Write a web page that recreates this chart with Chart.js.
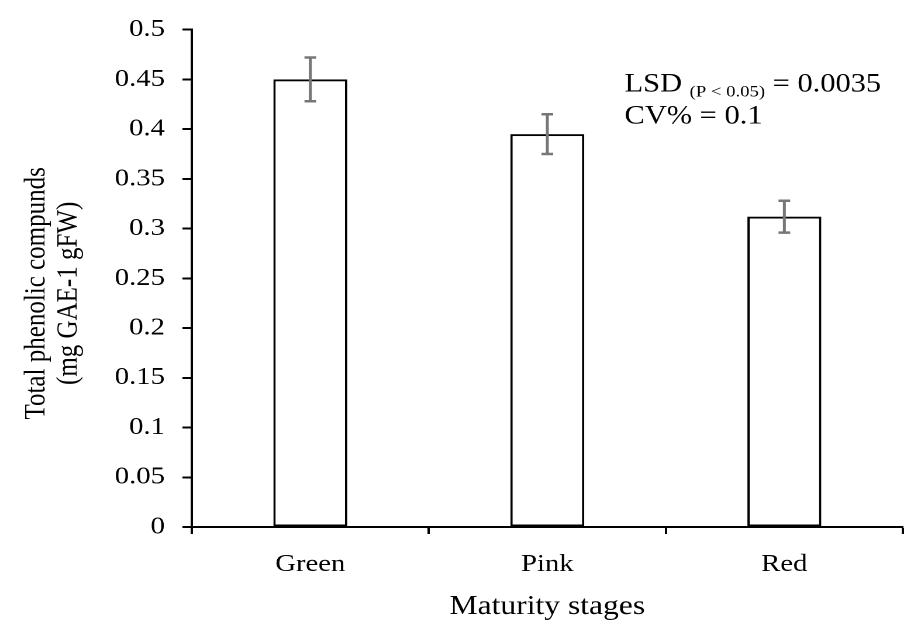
<!DOCTYPE html>
<html>
<head>
<meta charset="utf-8">
<script src="https://cdn.jsdelivr.net/npm/chart.js@4.4.1/dist/chart.umd.min.js"></script>
<style>
  html, body { margin: 0; padding: 0; background: #fff; overflow: hidden; }
  /* chart is laid out narrower and stretched sideways, like the exported figure */
  #wrap { width: 773px; height: 628px; transform: scaleX(1.1695); transform-origin: 0 0; }
</style>
</head>
<body>
<div id="wrap"><canvas id="phenolChart"></canvas></div>
<script>
// Total phenolic compounds at each maturity stage
const stages = ['Green', 'Pink', 'Red'];
const phenolMeans = [0.45, 0.395, 0.312];
const phenolErrors = [0.022, 0.02, 0.016];
const yMin = 0, yMax = 0.5, yStep = 0.05;
const yTitleLines = ['Total phenolic compunds', '(mg GAE-1 gFW)'];
const xTitle = 'Maturity stages';
const lsdValue = '0.0035';
const cvValue = '0.1';

const serif = '"Liberation Serif", "Times New Roman", serif';

// Mean +/- error whiskers on top of each bar
const errorBars = {
    id: 'errorBars',
    afterDatasetsDraw(chart) {
        const { ctx } = chart;
        const y = chart.scales.y;
        const meta = chart.getDatasetMeta(0);
        ctx.save();
        ctx.strokeStyle = '#777777';
        ctx.lineWidth = 2.5;
        meta.data.forEach((bar, i) => {
            const top = y.getPixelForValue(phenolMeans[i] + phenolErrors[i]);
            const bottom = y.getPixelForValue(phenolMeans[i] - phenolErrors[i]);
            ctx.beginPath();
            ctx.moveTo(bar.x, top);
            ctx.lineTo(bar.x, bottom);
            ctx.moveTo(bar.x - 5, top);
            ctx.lineTo(bar.x + 5, top);
            ctx.moveTo(bar.x - 5, bottom);
            ctx.lineTo(bar.x + 5, bottom);
            ctx.stroke();
        });
        ctx.restore();
    }
};

// LSD / CV% note in the upper right corner
const statsNote = {
    id: 'statsNote',
    afterDraw(chart) {
        const { ctx, chartArea } = chart;
        const left = chartArea.left + 370;
        const base = chartArea.top + 62;
        let x = left;
        ctx.save();
        ctx.fillStyle = '#000';
        ctx.textBaseline = 'alphabetic';
        ctx.textAlign = 'left';
        ctx.font = '26px ' + serif;
        ctx.fillText('LSD ', x, base);
        x += ctx.measureText('LSD ').width;
        ctx.font = '16px ' + serif;
        ctx.fillText('(P < 0.05)', x, base + 5);
        x += ctx.measureText('(P < 0.05)').width;
        ctx.font = '26px ' + serif;
        ctx.fillText(' = ' + lsdValue, x, base);
        ctx.fillText('CV% = ' + cvValue, left, base + 32);
        ctx.restore();
    }
};

// Two-line vertical axis title
const yTitle = {
    id: 'yTitle',
    afterDraw(chart) {
        const { ctx, chartArea } = chart;
        const cy = (chartArea.top + chartArea.bottom) / 2 + 15;
        ctx.save();
        ctx.fillStyle = '#000';
        ctx.font = '25px ' + serif;
        ctx.textAlign = 'center';
        ctx.textBaseline = 'middle';
        yTitleLines.forEach((line, i) => {
            ctx.save();
            ctx.translate(31.5 + i * 27.5, cy);
            ctx.rotate(-Math.PI / 2);
            ctx.fillText(line, 0, 0);
            ctx.restore();
        });
        ctx.restore();
    }
};

const ctx = document.getElementById('phenolChart').getContext('2d');
const phenolChart = new Chart(ctx, {
    type: 'bar',
    data: {
        labels: stages,
        datasets: [{
            data: phenolMeans,
            backgroundColor: '#ffffff',
            borderColor: '#000000',
            borderWidth: 2,
            borderSkipped: false,
            barPercentage: 0.312,
            categoryPercentage: 1,
        }],
    },
    options: {
        responsive: true,
        maintainAspectRatio: false,
        devicePixelRatio: 2,
        animation: false,
        layout: { padding: { top: 16, right: 1, left: 0, bottom: 0 } },
        plugins: {
            legend: { display: false },
            tooltip: { enabled: false },
        },
        scales: {
            x: {
                grid: {
                    offset: true,
                    drawOnChartArea: false,
                    drawTicks: true,
                    tickLength: 7,
                    tickWidth: 2,
                    tickColor: '#000',
                },
                border: { color: '#000', width: 2 },
                ticks: {
                    color: '#000',
                    padding: 16,
                    maxRotation: 0,
                    font: { family: serif, size: 24.5 },
                },
                title: {
                    display: true,
                    text: xTitle,
                    color: '#000',
                    font: { family: serif, size: 27 },
                    padding: { top: 0, bottom: 5 },
                },
                afterFit(scale) { scale.height = 101; },
            },
            y: {
                min: yMin,
                max: yMax,
                grid: {
                    drawOnChartArea: false,
                    drawTicks: true,
                    tickLength: 8,
                    tickWidth: 2,
                    tickColor: '#000',
                },
                border: { color: '#000', width: 2 },
                ticks: {
                    stepSize: yStep,
                    color: '#000',
                    padding: 15,
                    font: { family: serif, size: 24.5 },
                    callback: (v) => String(+v.toFixed(2)),
                },
                afterFit(scale) { scale.width = 164; },
            },
        },
    },
    plugins: [errorBars, statsNote, yTitle],
});
</script>
</body>
</html>
